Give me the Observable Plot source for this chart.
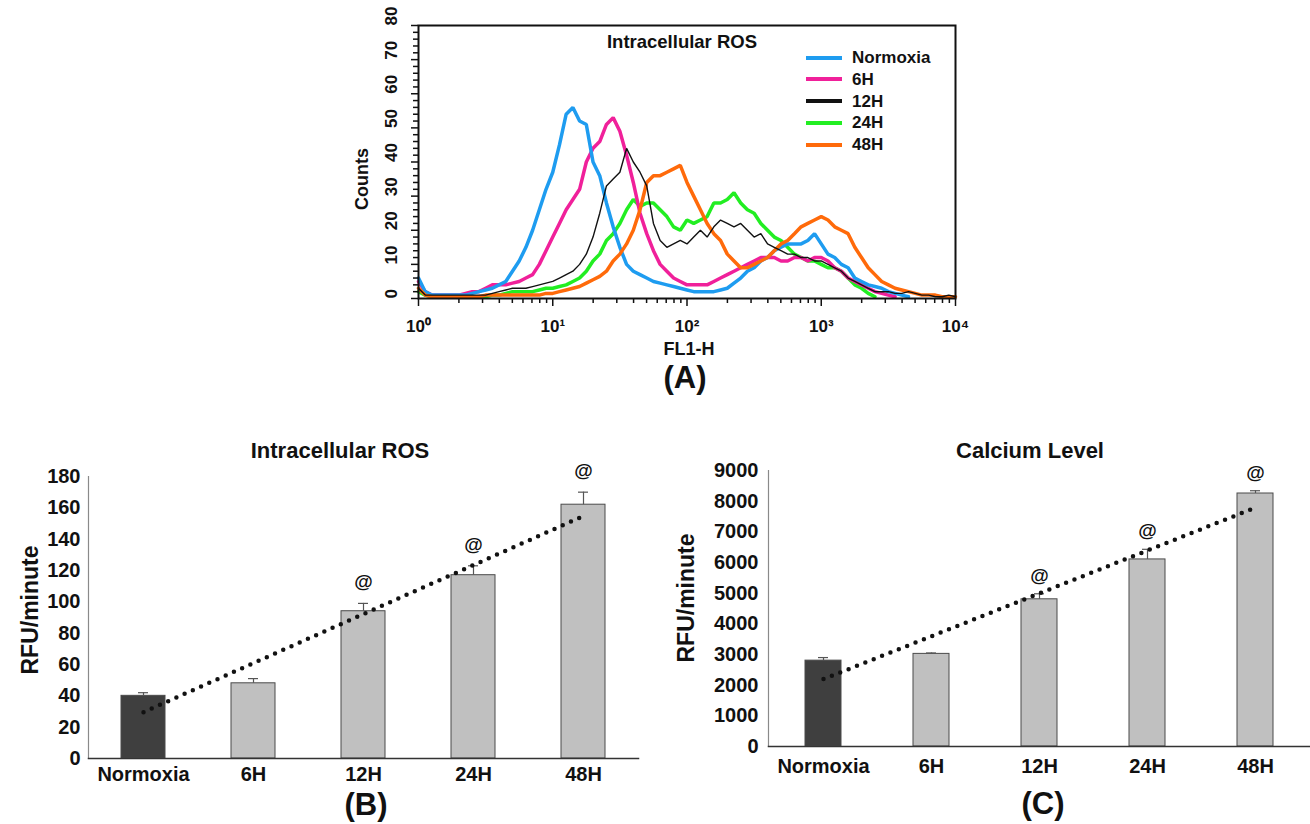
<!DOCTYPE html>
<html><head><meta charset="utf-8">
<script src="https://cdn.jsdelivr.net/npm/d3@7"></script>
<script src="https://cdn.jsdelivr.net/npm/@observablehq/plot@0.6"></script>
<style>
html,body{margin:0;padding:0;background:#fff;overflow:hidden;}
#root{position:relative;width:1310px;height:824px;font-family:"Liberation Sans",Arial,sans-serif;font-weight:bold;color:#111;}
.lbl{position:absolute;white-space:nowrap;transform:translate(-50%,-50%);line-height:1;}
.rot{transform:translate(-50%,-50%) rotate(-90deg);}
.panel{position:absolute;}
.panel svg{overflow:visible;}
.leg{position:absolute;display:flex;align-items:center;font-size:17px;line-height:1;}
.leg span.sw{display:inline-block;width:36px;height:4px;margin-right:10px;}
</style></head><body><div id="root"></div>
<script>
// ---------- Panel A: flow cytometry histogram ----------
const fl1Exponents = [0,0.05,0.1,0.15,0.2,0.25,0.3,0.35,0.4,0.45,0.5,0.55,0.6,0.65,0.7,0.75,0.8,0.85,0.9,0.95,1,1.05,1.1,1.15,1.2,1.25,1.3,1.35,1.4,1.45,1.5,1.55,1.6,1.65,1.7,1.75,1.8,1.85,1.9,1.95,2,2.05,2.1,2.15,2.2,2.25,2.3,2.35,2.4,2.45,2.5,2.55,2.6,2.65,2.7,2.75,2.8,2.85,2.9,2.95,3,3.05,3.1,3.15,3.2,3.25,3.3,3.35,3.4,3.45,3.5,3.55,3.6,3.65,3.7,3.75,3.8,3.85,3.9,3.95,4];
const normoxiaCounts = [6,2,1,1,1,1,1,1,1.5,2, 2.5,3,4,5,8,11,15,20,26,32, 37,45,54,56,52,51,40,36,28,21, 15,10,8,7,6,5,4.5,4,3.5,3, 2.5,2,2,2,2,2.5,3,4.5,6,8, 9,11,12,14,15,16,16,16,17,19, 16,13,12,10,9,6,5,4,3.5,3, 2,1.5,1,0.5,null,null,null,null,null,null,null];
const h6Counts = [5,2,1,1,1,1,1,1.5,2,2, 3,4,4,4,4.5,5,6,7,10,14, 18,22,26,29,32,40,44,46,51,53, 49,42,34,25,19,14,10,8,6,5, 4,4,4,4,5,6,7,8,9,10, 11,12,12,12,11,11,12,12,11,12, 12,11,9,8,6,5,4,3,2,1.5, 1,0.5,null,null,null,null,null,null,null,null,null];
const h12Counts = [3,1,1,1,1,1,1,1,1,1, 1,1.5,2,2.5,3,3,3,3.5,4,4.5, 5,6,7,8,10,13,18,25,33,35, 37,44,40,37,33,22,17,15,16,17, 16,18,20,18,21,23,22,21,22,20, 18,19,16,15,14,13,13,12,12,11, 11,10,9,8,6,5,4,3,2,2, 2,1.5,1.5,2,1.5,1,1,0.5,0.5,1, 0.5];
const h24Counts = [2,1,0.5,0.5,0.5,0.5,0.5,0.5,0.5,0.5, 0.5,1,1,1.5,2,2,2,2,2.5,3, 3,3.5,4,5,6,8,11,13,17,19, 22,26,29,27,28,28,26,24,21,20, 23,22,23,24,28,28,29,31,28,26, 25,22,20,18,17,15,13,12,11,11, 10,9,9,8,6,4,3,1.5,0.5,null, null,null,null,null,null,null,null,null,null,null, null];
const h48Counts = [3,1,0.5,0.5,0.5,0.5,0.5,0.5,0.5,0.5, 1,1,1,1,1,1,1,1,1,1.5, 1.5,2,2.5,3,3.5,4.5,5.5,6.5,8,11, 13,16,20,26,34,36,36,37,38,39, 34,30,26,22,19,17,13,11,9,9, 10,11,12,14,16,17,19,21,22,23, 24,23,21,20,19,15,12,9,7,5, 4,3,2.5,2,1.5,1,1,1,0.5,0.5, 0.5];
const seriesNames = ["Normoxia","6H","12H","24H","48H"];
const seriesColors = ["#1e9cf0","#f0209a","#111111","#22ee22","#ff6a0a"];
const seriesWidths = [3.5,3.5,1.4,3.5,3.5];
const countTicksMajor = [0,10,20,30,40,50,60,70,80];
const countTicksMinor = [2,4,6,8,12,14,16,18,22,24,26,28,32,34,36,38,42,44,46,48,52,54,56,58,62,64,66,68,72,74,76,78];
const fl1Decades = [1,10,100,1000,10000];
const fl1DecadeLabels = ["10\u2070","10\u00b9","10\u00b2","10\u00b3","10\u2074"];
const fl1Minor = [2,3,4,5,6,7,8,9,20,30,40,50,60,70,80,90,200,300,400,500,600,700,800,900,2000,3000,4000,5000,6000,7000,8000,9000];

// ---------- Panels B and C ----------
const groups = ["Normoxia","6H","12H","24H","48H"];
const rosValues = [40,48,94,117,162];
const rosErrors = [2,3,5,6,8];
const rosTicks = [0,20,40,60,80,100,120,140,160,180];
const calciumValues = [2800,3020,4800,6100,8250];
const calciumErrors = [100,30,180,330,90];
const calciumTicks = [0,1000,2000,3000,4000,5000,6000,7000,8000,9000];
const significant = [false,false,true,true,true];

const FONT = '"Liberation Sans", Arial, sans-serif';
const root = document.getElementById("root");

function addLabel(text, x, y, size, rotate) {
  const d = document.createElement("div");
  d.className = "lbl" + (rotate ? " rot" : "");
  d.style.left = x + "px"; d.style.top = y + "px"; d.style.fontSize = size + "px";
  d.textContent = text;
  root.appendChild(d);
}
function addPanel(node, left, top) {
  const w = document.createElement("div");
  w.className = "panel"; w.style.left = left + "px"; w.style.top = top + "px";
  w.appendChild(node); root.appendChild(w);
}

// Panel A
const histRows = [];
seriesNames.forEach((s, k) => {
  const counts = [normoxiaCounts, h6Counts, h12Counts, h24Counts, h48Counts][k];
  fl1Exponents.forEach((e, i) => histRows.push({series: s, fl1: Math.pow(10, e), count: counts[i]}));
});
const drawOrder = ["24H","6H","Normoxia","48H","12H"];
const histPlot = Plot.plot({
  width: 630, height: 340, marginLeft: 78, marginRight: 15, marginTop: 25, marginBottom: 42,
  x: {type: "log", domain: [1, 10000], label: null},
  y: {domain: [0, 80], label: null},
  style: {fontFamily: FONT, fontWeight: "bold", fontSize: "17px", color: "#111", background: "transparent"},
  marks: [
    ...drawOrder.map(s => {
      const k = seriesNames.indexOf(s);
      return Plot.line(histRows.filter(d => d.series === s), {x: "fl1", y: "count", stroke: seriesColors[k], strokeWidth: seriesWidths[k], strokeLinejoin: "miter"});
    }),
    Plot.axisY(countTicksMinor, {tickSize: 5, tickFormat: () => "", label: null, stroke: "#111", strokeWidth: 1.5}),
    Plot.axisY(countTicksMajor, {tickSize: 7, tickFormat: () => "", label: null, stroke: "#111", strokeWidth: 1.5}),
    Plot.text(countTicksMajor, {y: d => d, text: d => String(d), frameAnchor: "left", dx: -27, rotate: -90, fontSize: 17}),
    Plot.axisX(fl1Minor, {tickSize: 5, tickFormat: () => "", label: null, stroke: "#111", strokeWidth: 1.5}),
    Plot.axisX(fl1Decades, {tickSize: 8, tickPadding: 13, label: null, tickFormat: d => fl1DecadeLabels[fl1Decades.indexOf(d)], stroke: "#111", strokeWidth: 1.5, fontSize: 17}),
    Plot.frame({stroke: "#111", strokeWidth: 2})
  ]
});
addPanel(histPlot, 340, 0);
addLabel("Intracellular ROS", 682, 42, 18.5);
addLabel("Counts", 362, 179, 18, true);
addLabel("FL1-H", 689, 349, 18);
addLabel("(A)", 685, 377, 31);
seriesNames.forEach((s, k) => {
  const d = document.createElement("div");
  d.className = "leg";
  d.style.left = "806px"; d.style.top = (58 + k * 21.8 - 9) + "px";
  d.innerHTML = `<span class="sw" style="background:${seriesColors[k]}"></span>${s}`;
  root.appendChild(d);
});

// Bar panels
function linFit(vals) {
  const xs = vals.map((_, i) => i + 1);
  const mx = d3.mean(xs), my = d3.mean(vals);
  const b = d3.sum(xs.map((x, i) => (x - mx) * (vals[i] - my))) / d3.sum(xs.map(x => (x - mx) ** 2));
  return x => my + b * (x - mx);
}
function barPanel(values, errors, ticks, o) {
  const rows = groups.map((g, i) => ({cat: g, value: values[i], top: values[i] + errors[i], sig: significant[i], control: i === 0}));
  const fit = linFit(values);
  const trend = [{cat: groups[0], y: fit(1)}, {cat: groups[groups.length - 1], y: fit(groups.length)}];
  return Plot.plot({
    width: o.width, height: o.height, marginLeft: o.ml, marginRight: o.mr, marginTop: o.mt, marginBottom: o.mb,
    x: {domain: groups, padding: 0, label: null},
    y: {domain: [ticks[0], ticks[ticks.length - 1]], label: null},
    style: {fontFamily: FONT, fontWeight: "bold", fontSize: "20px", color: "#111", background: "transparent"},
    marks: [
      Plot.barY(rows, {x: "cat", y: "value", fill: d => d.control ? "#3f3f3f" : "#c0c0c0", stroke: "#4a4a4a", strokeWidth: 1, insetLeft: o.inset, insetRight: o.inset}),
      Plot.ruleX(rows, {x: "cat", y1: "value", y2: "top", stroke: "#555", strokeWidth: 1.2}),
      Plot.tickY(rows, {x: "cat", y: "top", stroke: "#555", strokeWidth: 1.2, insetLeft: o.cap, insetRight: o.cap}),
      Plot.line(trend, {x: "cat", y: "y", stroke: "#111", strokeWidth: 4.5, strokeDasharray: "0,9", strokeLinecap: "round"}),
      Plot.text(rows.filter(d => d.sig), {x: "cat", y: "top", text: () => "@", dy: o.atDy, fontSize: 19}),
      Plot.frame({anchor: "left", stroke: "#8a8a8a", strokeWidth: 1.2}),
      Plot.frame({anchor: "bottom", stroke: "#333", strokeWidth: 1.5}),
      Plot.axisY(ticks, {tickSize: 0, tickPadding: o.ypad, fontSize: 20, label: null, tickFormat: d => String(d)}),
      Plot.axisX({tickSize: 0, tickPadding: o.xpad, fontSize: 20, label: null})
    ]
  });
}
addPanel(barPanel(rosValues, rosErrors, rosTicks, {width: 650, height: 330, ml: 88, mr: 12, mt: 16, mb: 32, inset: 33, cap: 50, atDy: -21, ypad: 8, xpad: 8}), 0, 460);
addLabel("Intracellular ROS", 340, 451, 22);
addLabel("RFU/minute", 30, 610, 23, true);
addLabel("(B)", 366, 804, 31);

addPanel(barPanel(calciumValues, calciumErrors, calciumTicks, {width: 630, height: 320, ml: 88, mr: 0, mt: 15, mb: 29, inset: 36, cap: 49, atDy: -18, ypad: 10, xpad: 12}), 680, 455);
addLabel("Calcium Level", 1030, 451, 22);
addLabel("RFU/minute", 686, 598, 23, true);
addLabel("(C)", 1043, 803, 31);
</script></body></html>
